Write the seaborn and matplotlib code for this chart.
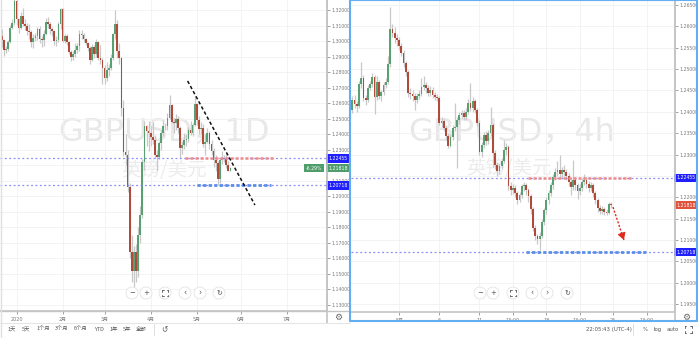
import matplotlib
matplotlib.use("Agg")
import matplotlib.pyplot as plt
import seaborn as sns
import numpy as np
import pandas as pd
from matplotlib.patches import Circle
from matplotlib.transforms import blended_transform_factory as btf

# ---------------- data: GBPUSD daily (bar 0 = 2 Jan 2020) ----------------
d_bar = list(range(-7, 103))
d_open = [1.3030, 1.3005, 1.2945, 1.2950, 1.2995, 1.3085, 1.3115,
          1.3260, 1.3140, 1.3085, 1.3160, 1.3110, 1.3095, 1.3065, 1.3060, 1.2995, 1.3020,
          1.3035, 1.3075, 1.3010, 1.3005, 1.3045, 1.3125, 1.3110, 1.3075, 1.3065, 1.3000,
          1.3005, 1.3110, 1.3205, 1.3000, 1.3030, 1.2995, 1.2930, 1.2895, 1.2915, 1.2945,
          1.2970, 1.3045, 1.3040, 1.3010, 1.2990, 1.2955, 1.2880, 1.2960, 1.2915, 1.2995,
          1.2890, 1.2880, 1.2825, 1.2760, 1.2815, 1.2825, 1.2890, 1.3045, 1.3110, 1.2935,
          1.2890, 1.2570, 1.2285, 1.2265, 1.2060, 1.1640, 1.1520, 1.1640, 1.1520, 1.1750,
          1.1880, 1.2220, 1.2455, 1.2420, 1.2405, 1.2385, 1.2360, 1.2265, 1.2255, 1.2345,
          1.2410, 1.2455, 1.2450, 1.2505, 1.2590, 1.2480, 1.2470, 1.2500, 1.2440, 1.2310,
          1.2330, 1.2360, 1.2370, 1.2425, 1.2405, 1.2460, 1.2595, 1.2490, 1.2435, 1.2440,
          1.2335, 1.2350, 1.2405, 1.2335, 1.2295, 1.2235, 1.2215, 1.2110, 1.2235, 1.2245,
          1.2240, 1.2200, 1.2165]
d_high = [1.3080, 1.3015, 1.2965, 1.3005, 1.3105, 1.3140, 1.3285,
          1.3285, 1.3150, 1.3185, 1.3215, 1.3140, 1.3115, 1.3110, 1.3070, 1.3045, 1.3055,
          1.3090, 1.3095, 1.3030, 1.3070, 1.3150, 1.3155, 1.3120, 1.3090, 1.3070, 1.3035,
          1.3120, 1.3215, 1.3210, 1.3045, 1.3045, 1.3000, 1.2945, 1.2935, 1.2990, 1.2985,
          1.3070, 1.3070, 1.3055, 1.3020, 1.2995, 1.2965, 1.2980, 1.2975, 1.3015, 1.3000,
          1.2975, 1.2890, 1.2845, 1.2865, 1.2850, 1.2915, 1.3055, 1.3200, 1.3135, 1.2985,
          1.2900, 1.2620, 1.2400, 1.2300, 1.2085, 1.1750, 1.1680, 1.1690, 1.1800, 1.1935,
          1.2240, 1.2485, 1.2460, 1.2485, 1.2455, 1.2480, 1.2395, 1.2300, 1.2355, 1.2430,
          1.2490, 1.2475, 1.2535, 1.2650, 1.2595, 1.2505, 1.2530, 1.2515, 1.2450, 1.2355,
          1.2405, 1.2400, 1.2445, 1.2485, 1.2470, 1.2645, 1.2600, 1.2515, 1.2480, 1.2465,
          1.2400, 1.2440, 1.2420, 1.2360, 1.2310, 1.2265, 1.2225, 1.2245, 1.2295, 1.2265,
          1.2275, 1.2225, 1.2190]
d_low = [1.2960, 1.2905, 1.2920, 1.2935, 1.2985, 1.3075, 1.3105,
         1.3105, 1.3050, 1.3080, 1.3100, 1.3070, 1.3040, 1.3015, 1.2960, 1.2955, 1.3000,
         1.3005, 1.2990, 1.2960, 1.2970, 1.3040, 1.3085, 1.3045, 1.3030, 1.2975, 1.2965,
         1.2995, 1.3080, 1.2995, 1.2990, 1.2975, 1.2915, 1.2870, 1.2875, 1.2900, 1.2925,
         1.2935, 1.3010, 1.2995, 1.2975, 1.2935, 1.2850, 1.2870, 1.2890, 1.2900, 1.2880,
         1.2855, 1.2725, 1.2725, 1.2740, 1.2775, 1.2815, 1.2880, 1.3010, 1.2890, 1.2850,
         1.2515, 1.2260, 1.2200, 1.2030, 1.1600, 1.1450, 1.1409, 1.1450, 1.1480, 1.1700,
         1.1860, 1.2170, 1.2325, 1.2290, 1.2325, 1.2340, 1.2245, 1.2165, 1.2240, 1.2300,
         1.2390, 1.2425, 1.2430, 1.2495, 1.2470, 1.2405, 1.2430, 1.2405, 1.2245, 1.2270,
         1.2305, 1.2325, 1.2350, 1.2395, 1.2390, 1.2455, 1.2460, 1.2400, 1.2400, 1.2320,
         1.2265, 1.2345, 1.2305, 1.2265, 1.2190, 1.2165, 1.2075, 1.2085, 1.2205, 1.2220,
         1.2180, 1.2160, 1.2160]
d_close = [1.3005, 1.2945, 1.2950, 1.2995, 1.3085, 1.3115, 1.3260,
           1.3140, 1.3085, 1.3160, 1.3110, 1.3095, 1.3065, 1.3060, 1.2995, 1.3020, 1.3035,
           1.3075, 1.3010, 1.3005, 1.3045, 1.3125, 1.3110, 1.3075, 1.3065, 1.3000, 1.3005,
           1.3110, 1.3205, 1.3000, 1.3030, 1.2995, 1.2930, 1.2895, 1.2915, 1.2945, 1.2970,
           1.3045, 1.3040, 1.3010, 1.2990, 1.2955, 1.2880, 1.2960, 1.2915, 1.2995, 1.2890,
           1.2880, 1.2825, 1.2760, 1.2815, 1.2825, 1.2890, 1.3045, 1.3110, 1.2935, 1.2890,
           1.2570, 1.2285, 1.2265, 1.2060, 1.1640, 1.1520, 1.1640, 1.1520, 1.1750, 1.1880,
           1.2220, 1.2455, 1.2420, 1.2405, 1.2385, 1.2360, 1.2265, 1.2255, 1.2345, 1.2410,
           1.2455, 1.2450, 1.2505, 1.2590, 1.2480, 1.2470, 1.2500, 1.2440, 1.2310, 1.2330,
           1.2360, 1.2370, 1.2425, 1.2405, 1.2460, 1.2595, 1.2490, 1.2435, 1.2440, 1.2335,
           1.2350, 1.2405, 1.2335, 1.2295, 1.2235, 1.2215, 1.2110, 1.2235, 1.2245, 1.2240,
           1.2200, 1.2165, 1.2182]
d_tick_pos = [0, 22, 42, 64, 86, 107, 129]
d_tick_lab = ['2020', '2月', '3月', '4月', '5月', '6月', '7月']

# ---------------- data: GBPUSD 4h (bar 0 = 27 Apr 13:00) ----------------
h_bar = list(range(117))
h_close = [1.2428, 1.2418, 1.2414, 1.2465, 1.2479, 1.2432, 1.2428, 1.2456, 1.2465, 1.2481,
           1.2435, 1.2470, 1.2437, 1.2446, 1.2463, 1.2470, 1.2512, 1.2594, 1.2584, 1.2573,
           1.2568, 1.2554, 1.2538, 1.2514, 1.2493, 1.2444, 1.2442, 1.2437, 1.2428, 1.2437,
           1.2442, 1.2458, 1.2463, 1.2456, 1.2444, 1.2451, 1.2439, 1.2435, 1.2432, 1.2374,
           1.2378, 1.2362, 1.2343, 1.2320, 1.2341, 1.2362, 1.2364, 1.2381, 1.2393, 1.2397,
           1.2388, 1.2400, 1.2421, 1.2409, 1.2425, 1.2404, 1.2374, 1.2306, 1.2322, 1.2346,
           1.2332, 1.2350, 1.2369, 1.2303, 1.2275, 1.2261, 1.2273, 1.2285, 1.2310, 1.2317,
           1.2226, 1.2217, 1.2222, 1.2210, 1.2193, 1.2205, 1.2226, 1.2228, 1.2217, 1.2203,
           1.2172, 1.2128, 1.2109, 1.2102, 1.2109, 1.2142, 1.2170, 1.2193, 1.2210, 1.2228,
           1.2247, 1.2259, 1.2264, 1.2254, 1.2264, 1.2259, 1.2250, 1.2236, 1.2224, 1.2240,
           1.2228, 1.2214, 1.2222, 1.2236, 1.2240, 1.2231, 1.2222, 1.2228, 1.2210, 1.2193,
           1.2175, 1.2168, 1.2172, 1.2165, 1.2163, 1.2184, 1.2182]
h_open = [1.2404, 1.2428, 1.2418, 1.2414, 1.2465, 1.2479, 1.2432, 1.2428, 1.2456, 1.2465,
          1.2481, 1.2435, 1.2470, 1.2437, 1.2446, 1.2463, 1.2470, 1.2512, 1.2594, 1.2584,
          1.2573, 1.2568, 1.2554, 1.2538, 1.2514, 1.2493, 1.2444, 1.2442, 1.2437, 1.2428,
          1.2437, 1.2442, 1.2458, 1.2463, 1.2456, 1.2444, 1.2451, 1.2439, 1.2435, 1.2432,
          1.2374, 1.2378, 1.2362, 1.2343, 1.2320, 1.2341, 1.2362, 1.2364, 1.2381, 1.2393,
          1.2397, 1.2388, 1.2400, 1.2421, 1.2409, 1.2425, 1.2404, 1.2374, 1.2306, 1.2322,
          1.2346, 1.2332, 1.2350, 1.2369, 1.2303, 1.2275, 1.2261, 1.2273, 1.2285, 1.2310,
          1.2317, 1.2226, 1.2217, 1.2222, 1.2210, 1.2193, 1.2205, 1.2226, 1.2228, 1.2217,
          1.2203, 1.2172, 1.2128, 1.2109, 1.2102, 1.2109, 1.2142, 1.2170, 1.2193, 1.2210,
          1.2228, 1.2247, 1.2259, 1.2264, 1.2254, 1.2264, 1.2259, 1.2250, 1.2236, 1.2224,
          1.2240, 1.2228, 1.2214, 1.2222, 1.2236, 1.2240, 1.2231, 1.2222, 1.2228, 1.2210,
          1.2193, 1.2175, 1.2168, 1.2172, 1.2165, 1.2163, 1.2184]
h_high = [1.2436, 1.2440, 1.2425, 1.2472, 1.2517, 1.2486, 1.2440, 1.2462, 1.2473, 1.2492,
          1.2486, 1.2485, 1.2475, 1.2452, 1.2470, 1.2478, 1.2530, 1.2645, 1.2605, 1.2598,
          1.2582, 1.2575, 1.2560, 1.2545, 1.2520, 1.2498, 1.2455, 1.2450, 1.2445, 1.2445,
          1.2450, 1.2478, 1.2485, 1.2470, 1.2462, 1.2460, 1.2458, 1.2447, 1.2442, 1.2438,
          1.2388, 1.2384, 1.2368, 1.2350, 1.2348, 1.2370, 1.2420, 1.2388, 1.2400, 1.2405,
          1.2405, 1.2410, 1.2430, 1.2467, 1.2434, 1.2430, 1.2410, 1.2380, 1.2330, 1.2352,
          1.2355, 1.2358, 1.2411, 1.2375, 1.2310, 1.2282, 1.2280, 1.2292, 1.2334, 1.2326,
          1.2322, 1.2235, 1.2230, 1.2228, 1.2215, 1.2212, 1.2232, 1.2236, 1.2234, 1.2222,
          1.2208, 1.2178, 1.2134, 1.2115, 1.2118, 1.2148, 1.2176, 1.2200, 1.2218, 1.2236,
          1.2255, 1.2268, 1.2285, 1.2299, 1.2272, 1.2275, 1.2266, 1.2256, 1.2242, 1.2287,
          1.2248, 1.2234, 1.2230, 1.2245, 1.2255, 1.2248, 1.2238, 1.2236, 1.2234, 1.2215,
          1.2198, 1.2182, 1.2180, 1.2178, 1.2172, 1.2190, 1.2188]
h_low = [1.2398, 1.2410, 1.2400, 1.2408, 1.2455, 1.2425, 1.2415, 1.2422, 1.2450, 1.2458,
         1.2394, 1.2428, 1.2430, 1.2425, 1.2440, 1.2455, 1.2465, 1.2505, 1.2575, 1.2560,
         1.2555, 1.2545, 1.2530, 1.2505, 1.2485, 1.2435, 1.2430, 1.2425, 1.2404, 1.2420,
         1.2430, 1.2436, 1.2450, 1.2445, 1.2438, 1.2438, 1.2432, 1.2428, 1.2425, 1.2368,
         1.2365, 1.2355, 1.2335, 1.2315, 1.2318, 1.2335, 1.2355, 1.2268, 1.2372, 1.2385,
         1.2380, 1.2380, 1.2395, 1.2402, 1.2400, 1.2398, 1.2366, 1.2298, 1.2295, 1.2315,
         1.2322, 1.2325, 1.2344, 1.2271, 1.2266, 1.2250, 1.2255, 1.2266, 1.2280, 1.2300,
         1.2218, 1.2205, 1.2208, 1.2200, 1.2185, 1.2188, 1.2198, 1.2215, 1.2205, 1.2188,
         1.2162, 1.2120, 1.2100, 1.2090, 1.2076, 1.2104, 1.2135, 1.2162, 1.2185, 1.2202,
         1.2220, 1.2240, 1.2250, 1.2246, 1.2245, 1.2250, 1.2240, 1.2226, 1.2205, 1.2218,
         1.2218, 1.2196, 1.2205, 1.2215, 1.2228, 1.2222, 1.2212, 1.2215, 1.2200, 1.2185,
         1.2165, 1.2160, 1.2162, 1.2158, 1.2158, 1.2160, 1.2176]
h_tick_pos = [21, 39, 57, 72, 87, 102, 117, 132]
h_tick_lab = ['5月', '6', '11', '13:00', '18', '13:00', '25', '13:00']

# drawn levels / annotations (price values)
resistance = 1.22455
support = 1.20718
last_price = 1.21818
change_pct = '-6.29%'
d_trend_x = [81.6, 113.7]
d_trend_y = [1.2743, 1.1944]
d_res_x = [80.4, 122.3]
d_sup_x = [86.1, 121.4]
h_res_x = [78.8, 125.4]
h_sup_x = [77.9, 132.6]
h_arrow_x = [116.9, 121.8]
h_arrow_y = [1.2177, 1.2100]
# axis ticks covered by a price tag in the reference
d_hidden_ticks = [1.22]
h_hidden_ticks = [1.225]

# ---------------- style ----------------
GREEN = '#58a072'
RED = '#b04a3b'
WICK = '#c8c8c8'
BLUE = '#1f1fff'
GRID = '#f1f1f1'
TXT = '#7a7a7a'

sns.set_theme(style="white")
plt.rcParams['font.family'] = ['DejaVu Sans', 'Noto Sans CJK SC']

W, H = 698, 338
fig = plt.figure(figsize=(W / 100, H / 100), dpi=100)
fig.patch.set_facecolor('white')


def px_axes(x0, y0, x1, y1):
    return fig.add_axes([x0 / W, 1 - y1 / H, (x1 - x0) / W, (y1 - y0) / H])


axL = px_axes(0, 0, 327, 311)
axR = px_axes(351, 0, 675, 311.7)

dfD = pd.DataFrame({'x': d_bar, 'open': d_open, 'high': d_high, 'low': d_low, 'close': d_close})
dfH = pd.DataFrame({'x': h_bar, 'open': h_open, 'high': h_high, 'low': h_low, 'close': h_close})


def candles(ax, df, width, minh):
    up = df['close'] >= df['open']
    cols = np.where(up, GREEN, RED)
    ax.vlines(df['x'], df['low'], df['high'], color=WICK, lw=0.9, zorder=2)
    bottom = np.minimum(df['open'], df['close'])
    height = np.maximum((df['close'] - df['open']).abs(), minh)
    ax.bar(df['x'], height, bottom=bottom, width=width, color=cols, lw=0, zorder=3)


def style_axis(ax, xlim, ylim, yticks, xticks, xlabels, hidden):
    ax.set_xlim(*xlim)
    ax.set_ylim(*ylim)
    ax.set_facecolor('white')
    ax.yaxis.tick_right()
    ax.set_yticks(yticks)
    ax.set_yticklabels(['' if any(abs(v - h) < 1e-6 for h in hidden) else f'{v:.5f}'
                        for v in yticks])
    ax.set_xticks(xticks)
    ax.set_xticklabels(xlabels)
    ax.tick_params(axis='y', labelsize=3.3, colors=TXT, length=2, width=0.5, pad=1.5, right=True)
    ax.tick_params(axis='x', labelsize=3.5, colors=TXT, length=2, width=0.5, pad=2.5, bottom=True)
    for s in ['top', 'left']:
        ax.spines[s].set_visible(False)
    for s in ['right', 'bottom']:
        ax.spines[s].set_color('#c4c4c4')
        ax.spines[s].set_linewidth(1.2)
    ax.grid(True, color=GRID, lw=0.6, zorder=0)
    ax.set_axisbelow(True)


# ---------- left: daily ----------
style_axis(axL, (-7.87, 148.07), (1.12614, 1.32644),
           np.round(np.arange(1.13, 1.3201, 0.01), 2), d_tick_pos, d_tick_lab, d_hidden_ticks)
axL.text(0.502, 0.575, 'GBPUSD，1D', transform=axL.transAxes, ha='center', va='center',
         fontsize=23, color='#e8e8e8', zorder=0)
axL.text(0.502, 0.452, '英镑/美元', transform=axL.transAxes, ha='center', va='center',
         fontsize=14, color='#ececec', family=['Noto Sans CJK SC'], zorder=0)
candles(axL, dfD, 0.8, 0.0004)
axL.axhline(resistance, color='#8c8cf5', lw=0.9, ls=(0, (1.5, 2)), zorder=4)
axL.axhline(support, color='#8c8cf5', lw=0.9, ls=(0, (1.5, 2)), zorder=4)
sns.lineplot(x=d_res_x, y=[resistance, resistance], ax=axL, color='#ef8a8a', lw=1.8,
             linestyle=(0, (1.2, 0.8)), zorder=5)
sns.lineplot(x=d_sup_x, y=[support, support], ax=axL, color='#5b8ee8', lw=2.0,
             linestyle=(0, (1.2, 0.8)), zorder=5)
sns.lineplot(x=d_trend_x, y=d_trend_y, ax=axL, color='#111111', lw=1.1,
             linestyle=(0, (2.2, 1.6)), zorder=6)

# ---------- right: 4h ----------
style_axis(axR, (-0.58, 144.7), (1.19322, 1.26617),
           np.round(np.arange(1.195, 1.2651, 0.005), 3), h_tick_pos, h_tick_lab, h_hidden_ticks)
axR.text(0.497, 0.575, 'GBPUSD，4h', transform=axR.transAxes, ha='center', va='center',
         fontsize=23, color='#e8e8e8', zorder=0)
axR.text(0.487, 0.458, '英镑/美元', transform=axR.transAxes, ha='center', va='center',
         fontsize=14, color='#ececec', family=['Noto Sans CJK SC'], zorder=0)
candles(axR, dfH, 0.8, 0.00012)
axR.axhline(resistance, color='#8c8cf5', lw=0.9, ls=(0, (1.5, 2)), zorder=4)
axR.axhline(support, color='#8c8cf5', lw=0.9, ls=(0, (1.5, 2)), zorder=4)
sns.lineplot(x=h_res_x, y=[resistance, resistance], ax=axR, color='#ef8a8a', lw=1.8,
             linestyle=(0, (1.2, 0.8)), zorder=5)
sns.lineplot(x=h_sup_x, y=[support, support], ax=axR, color='#5b8ee8', lw=2.0,
             linestyle=(0, (1.2, 0.8)), zorder=5)
sns.lineplot(x=h_arrow_x, y=h_arrow_y, ax=axR, color='#e0281e', lw=1.0,
             linestyle=(0, (1.5, 1.2)), zorder=6)
axR.annotate('', xy=(h_arrow_x[1], h_arrow_y[1]),
             xytext=(h_arrow_x[1] - 0.6, h_arrow_y[1] + 0.0009),
             arrowprops=dict(arrowstyle='-|>,head_length=0.35,head_width=0.2',
                             color='#e0281e', lw=0.8), zorder=7)


# ---------- price labels on the axes ----------
def price_tag(ax, price, text, color, x=1.004, ha='left'):
    ax.text(x, price, text, transform=btf(ax.transAxes, ax.transData), ha=ha, va='center',
            fontsize=3.3, color='white', clip_on=False, zorder=30,
            bbox=dict(boxstyle='square,pad=0.4', fc=color, ec='none'))


price_tag(axL, resistance, f'{resistance:.5f}', BLUE)
price_tag(axL, support, f'{support:.5f}', BLUE)
price_tag(axL, last_price, f'{last_price:.5f}', '#4f9d6b')
price_tag(axL, last_price, change_pct, '#4f9d6b', x=0.986, ha='right')
price_tag(axR, resistance, f'{resistance:.5f}', BLUE)
price_tag(axR, support, f'{support:.5f}', BLUE)
price_tag(axR, last_price, f'{last_price:.5f}', '#e0523c')

# ---------- overlay: chrome / toolbar ----------
ov = fig.add_axes([0, 0, 1, 1])
ov.set_xlim(0, W)
ov.set_ylim(H, 0)
ov.axis('off')
ov.patch.set_alpha(0)
ov.set_zorder(10)

# separators and panel borders
ov.plot([0, 350], [311, 311], color='#c4c4c4', lw=1.0)
ov.plot([327, 327], [0, 323], color='#c4c4c4', lw=1.2)
ov.plot([0, 350], [323, 323], color='#e6e6e6', lw=0.8)
ov.plot([0.6, 0.6], [0, 338], color='#e0e0e0', lw=1.0)
ov.plot([675, 675], [0, 321], color='#c4c4c4', lw=1.2)
ov.plot([350, 350, 697, 697, 350], [0, 321, 321, 0, 0], color='#62aef0', lw=1.5)

# gear icons
for gx in (338, 686):
    ov.text(gx, 317, '⚙', ha='center', va='center', fontsize=6.5, color='#666666')


# zoom buttons
def zoom_buttons(xs, y):
    for xc in xs:
        ov.add_patch(Circle((xc, y), 6, fc='white', ec='#e3e3e3', lw=0.6, zorder=20))
    syms = ['−', '+', None, '‹', '›', '↻']
    for xc, s in zip(xs, syms):
        if s is None:
            for dx, dy in [(-1, -1), (1, -1), (-1, 1), (1, 1)]:
                cx, cy = xc + dx * 3, y + dy * 3
                ov.plot([cx, cx - dx * 1.5], [cy, cy], color='#555555', lw=0.6, zorder=21)
                ov.plot([cx, cx], [cy, cy - dy * 1.5], color='#555555', lw=0.6, zorder=21)
        else:
            ov.text(xc, y + 0.3, s, ha='center', va='center', fontsize=5.5 if s in '‹›' else 5,
                    color='#555555', zorder=21)


zoom_buttons([132, 146, 165, 185, 200, 219], 293)
zoom_buttons([480, 493, 513, 532, 547, 567], 293)

# bottom toolbar
ranges = ['1天', '5天', '1个月', '3个月', '6个月', 'YTD', '1年', '5年', '全部']
rx = [12, 26, 43, 62, 81, 99, 114, 127, 141]
for t, xx in zip(ranges, rx):
    ov.text(xx, 329.5, t, ha='center', va='center', fontsize=3.9, color='#555555',
            family=['Noto Sans CJK SC', 'DejaVu Sans'])
ov.plot([154, 154], [324, 335], color='#dddddd', lw=0.7)
ov.text(164, 329.5, '↺', ha='center', va='center', fontsize=5.5, color='#555555')
ov.text(609, 329.5, '22:05:43 (UTC-4)', ha='center', va='center', fontsize=3.9, color='#555555')
ov.plot([633, 633], [324, 335], color='#dddddd', lw=0.7)
ov.text(645, 329.5, '%', ha='center', va='center', fontsize=3.9, color='#555555')
ov.text(658, 329.5, 'log', ha='center', va='center', fontsize=3.9, color='#555555')
ov.text(673, 329.5, 'auto', ha='center', va='center', fontsize=3.9, color='#555555')
for dx, dy in [(-1, -1), (1, -1), (-1, 1), (1, 1)]:
    cx, cy = 688 + dx * 3.5, 329.5 + dy * 3.5
    ov.plot([cx, cx - dx * 1.8], [cy, cy], color='#555555', lw=0.6)
    ov.plot([cx, cx], [cy, cy - dy * 1.8], color='#555555', lw=0.6)

fig.savefig('out.png', dpi=100, facecolor='white')
